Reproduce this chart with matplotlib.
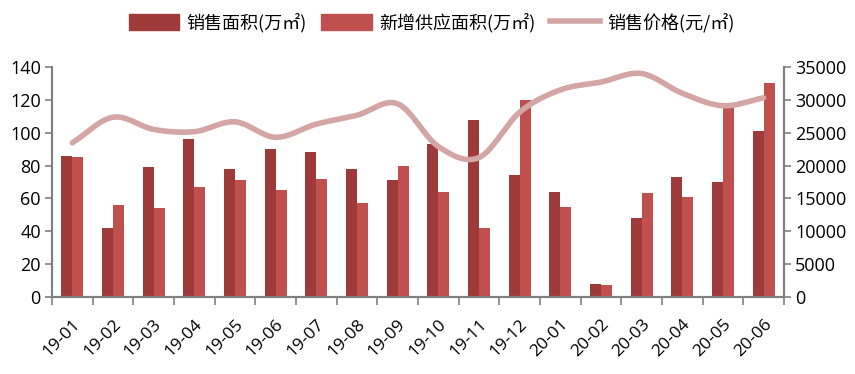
import matplotlib
matplotlib.use("Agg")
import matplotlib.pyplot as plt
import numpy as np
from matplotlib.patches import Patch
from matplotlib.lines import Line2D

plt.rcParams["font.family"] = ["Noto Sans CJK SC", "DejaVu Sans"]

months = ["19-01", "19-02", "19-03", "19-04", "19-05", "19-06", "19-07", "19-08", "19-09",
          "19-10", "19-11", "19-12", "20-01", "20-02", "20-03", "20-04", "20-05", "20-06"]
sales_area = [86, 42, 79, 96, 78, 90, 88, 78, 71, 93, 108, 74, 64, 8, 48, 73, 70, 101]
new_supply = [85, 56, 54, 67, 71, 65, 72, 57, 80, 64, 42, 120, 55, 7.5, 63, 61, 118, 130]
price = [23450, 27350, 25500, 25150, 26650, 24300, 26300, 27650, 29400, 22900, 21200,
         28100, 31500, 32700, 34000, 31000, 29100, 30300]

DARK = "#9E3B3A"
LIGHT = "#C0504D"
LINE = "#D3A5A4"
AXIS = "#808080"


def smooth(xs, ys, steps=20):
    # Catmull-Rom curve through the points, like Excel's smoothed line
    xs = np.asarray(xs, float)
    ys = np.asarray(ys, float)
    px = np.concatenate([[2 * xs[0] - xs[1]], xs, [2 * xs[-1] - xs[-2]]])
    py = np.concatenate([[2 * ys[0] - ys[1]], ys, [2 * ys[-1] - ys[-2]]])
    out_x, out_y = [], []
    t = np.linspace(0, 1, steps, endpoint=False)
    for i in range(1, len(px) - 2):
        for arr, out in ((px, out_x), (py, out_y)):
            p0, p1, p2, p3 = arr[i - 1], arr[i], arr[i + 1], arr[i + 2]
            out.extend(0.5 * ((2 * p1) + (-p0 + p2) * t
                              + (2 * p0 - 5 * p1 + 4 * p2 - p3) * t ** 2
                              + (-p0 + 3 * p1 - 3 * p2 + p3) * t ** 3))
    out_x.append(xs[-1])
    out_y.append(ys[-1])
    return np.array(out_x), np.array(out_y)


fig = plt.figure(figsize=(8.55, 3.74), dpi=100)
ax = fig.add_axes([0.0608, 0.206, 0.856, 0.615])
ax2 = ax.twinx()

x = np.arange(len(months))
w = 0.27
ax.bar(x - w / 2, sales_area, width=w, color=DARK, zorder=2)
ax.bar(x + w / 2, new_supply, width=w, color=LIGHT, zorder=2)

sx, sy = smooth(x, price)
ax2.plot(sx, sy, color=LINE, lw=4, solid_capstyle="round", zorder=3)

ax.set_xlim(-0.5, len(months) - 0.5)
ax.set_ylim(0, 140)
ax.set_yticks(range(0, 141, 20))
ax2.set_ylim(0, 35000)
ax2.set_yticks(range(0, 35001, 5000))

num_font = ["Open Sans", "DejaVu Sans"]
ax.set_xticks(x)
ax.set_xticklabels(months, rotation=45, ha="right", rotation_mode="anchor",
                   fontsize=12.5, family=num_font)
ax.set_xticks(np.arange(-0.5, len(months), 1), minor=True)
ax.tick_params(axis="x", which="major", length=0, pad=14)
ax.tick_params(axis="x", which="minor", length=6, color=AXIS, width=1.2)

for a in (ax, ax2):
    a.tick_params(axis="y", length=5, color=AXIS, width=1.2, labelsize=13, pad=3)
    for lab in a.get_yticklabels():
        lab.set_family(num_font)
    for s in a.spines.values():
        s.set_color(AXIS)
        s.set_linewidth(1.5)
    a.spines["top"].set_visible(False)

ax2.patch.set_visible(False)

handles = [Patch(color=DARK), Patch(color=LIGHT), Line2D([0], [0], color=LINE, lw=4)]
labels = ["销售面积(万㎡)", "新增供应面积(万㎡)", "销售价格(元/㎡)"]
fig.legend(handles, labels, loc="upper center", bbox_to_anchor=(0.505, 1.01), ncol=3,
           frameon=False, fontsize=13, handlelength=2.8, handleheight=1.0,
           columnspacing=0.8, handletextpad=0.4)

fig.savefig("out.png", dpi=100)
